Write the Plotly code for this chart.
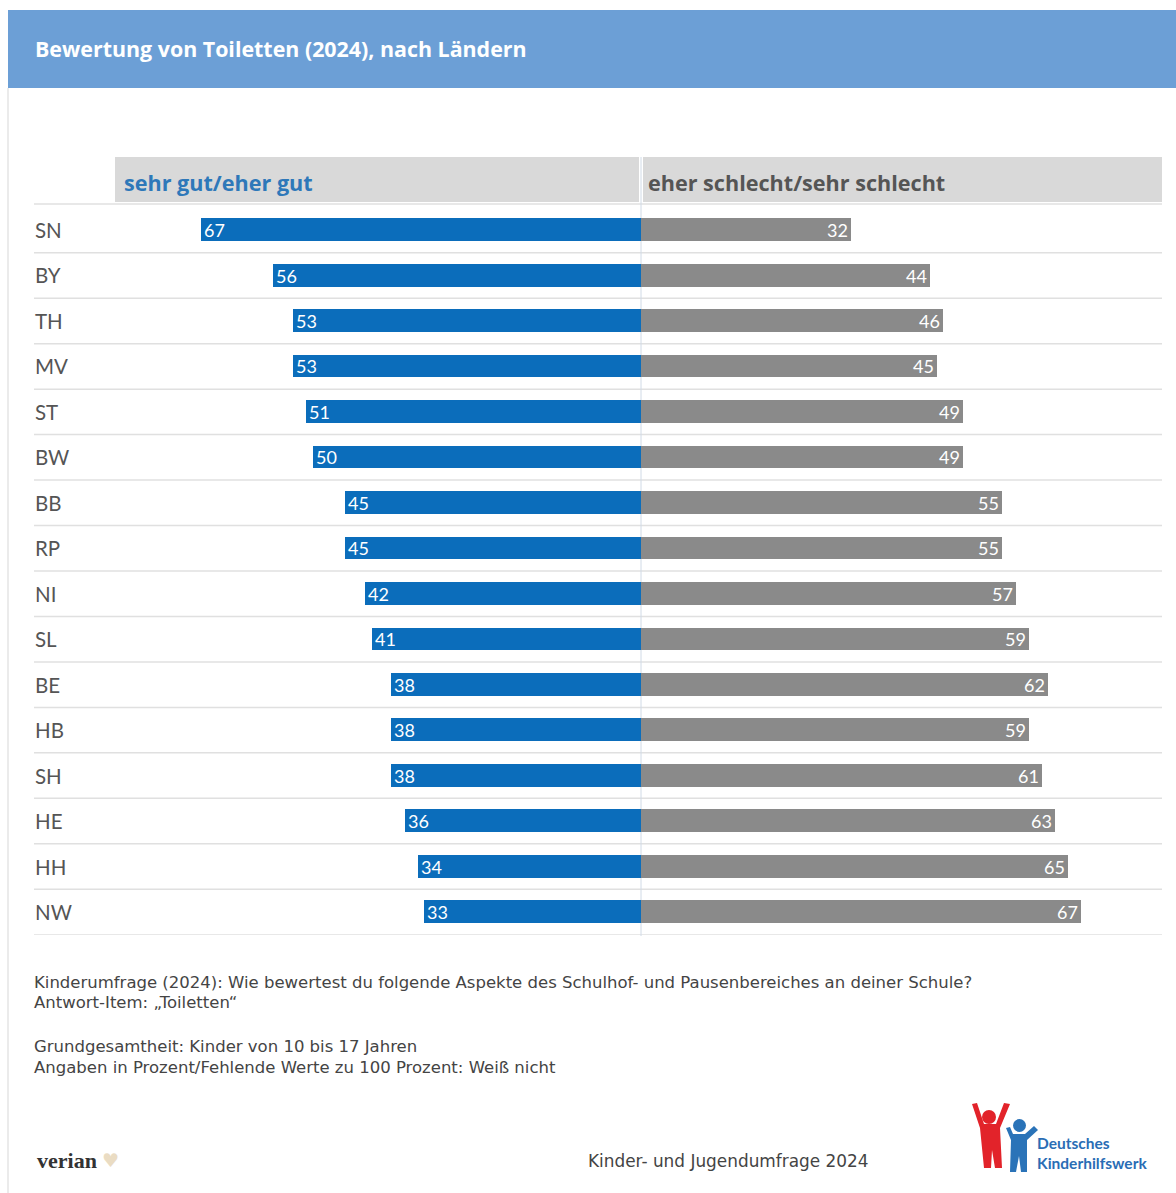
import plotly.graph_objects as go

W, H = 1176, 1193

states = ["SN", "BY", "TH", "MV", "ST", "BW", "BB", "RP", "NI", "SL", "BE", "HB", "SH", "HE", "HH", "NW"]
good = [67, 56, 53, 53, 51, 50, 45, 45, 42, 41, 38, 38, 38, 36, 34, 33]
bad = [32, 44, 46, 45, 49, 49, 55, 55, 57, 59, 62, 59, 61, 63, 65, 67]

series_names = ["sehr gut/eher gut", "eher schlecht/sehr schlecht"]
title_text = "Bewertung von Toiletten (2024), nach Ländern"
notes = [
    "Kinderumfrage (2024): Wie bewertest du folgende Aspekte des Schulhof- und Pausenbereiches an deiner Schule?",
    "Antwort-Item: „Toiletten“",
    "Grundgesamtheit: Kinder von 10 bis 17 Jahren",
    "Angaben in Prozent/Fehlende Werte zu 100 Prozent: Weiß nicht",
]

FONT = "Lato, 'Open Sans', sans-serif"
HFONT = "'Open Sans', Lato, sans-serif"
NFONT = "'DejaVu Sans', sans-serif"
BLUE = "#0b6dbb"
GREY = "#8a8a8a"


def px(x):
    return x / W


def py(y):
    return 1 - y / H


idx = list(range(len(states)))

fig = go.Figure()
fig.add_trace(go.Bar(
    y=idx, x=[-v for v in good], orientation="h", width=0.5,
    marker=dict(color=BLUE, line=dict(width=0)),
    text=[str(v) for v in good], textposition="inside", insidetextanchor="end",
    textangle=0, constraintext="none",
    textfont=dict(color="white", size=18, family=FONT),
    name=series_names[0], hoverinfo="skip",
))
fig.add_trace(go.Bar(
    y=idx, x=bad, orientation="h", width=0.5,
    marker=dict(color=GREY, line=dict(width=0)),
    text=[str(v) for v in bad], textposition="inside", insidetextanchor="end",
    textangle=0, constraintext="none",
    textfont=dict(color="white", size=18, family=FONT),
    name=series_names[1], hoverinfo="skip",
))

shapes = []
shapes.append(dict(type="rect", xref="paper", yref="paper", x0=px(8), x1=1, y0=py(88), y1=py(10),
                   fillcolor="#6c9fd6", line=dict(width=0), layer="below"))
shapes.append(dict(type="line", xref="paper", yref="paper", x0=px(8), x1=px(8), y0=0, y1=py(88),
                   line=dict(color="#e4e4e4", width=1.5)))
shapes.append(dict(type="rect", xref="paper", yref="paper", x0=px(115), x1=px(639), y0=py(202), y1=py(157),
                   fillcolor="#d9d9d9", line=dict(width=0), layer="below"))
shapes.append(dict(type="rect", xref="paper", yref="paper", x0=px(643), x1=px(1162), y0=py(202), y1=py(157),
                   fillcolor="#d9d9d9", line=dict(width=0), layer="below"))
shapes.append(dict(type="line", xref="paper", yref="paper", x0=px(34), x1=px(1162), y0=py(204), y1=py(204),
                   line=dict(color="#e0e0e0", width=1.5), layer="below"))
for i in idx:
    shapes.append(dict(type="line", xref="paper", yref="y", x0=px(34), x1=px(1162), y0=i + 0.5, y1=i + 0.5,
                       line=dict(color="#e0e0e0", width=1.5), layer="below"))
shapes.append(dict(type="line", xref="x", yref="paper", x0=0, x1=0, y0=py(936), y1=py(157),
                   line=dict(color="#d0dae6", width=1), layer="below"))

RED = "#e2232a"
LB = "#2a73b8"
shapes += [
    dict(type="circle", xref="paper", yref="paper", x0=px(982), x1=px(996), y0=py(1124), y1=py(1110),
         fillcolor=RED, line=dict(width=0)),
    dict(type="path", xref="paper", yref="paper",
         path=f"M {px(972)} {py(1104)} L {px(980)} {py(1128)} L {px(984)} {py(1168)} L {px(991)} {py(1168)} "
              f"L {px(992)} {py(1150)} L {px(995)} {py(1168)} L {px(1002)} {py(1168)} L {px(1000)} {py(1128)} "
              f"L {px(1010)} {py(1104)} L {px(1004)} {py(1103)} L {px(996)} {py(1124)} L {px(984)} {py(1124)} "
              f"L {px(977)} {py(1103)} Z",
         fillcolor=RED, line=dict(width=0)),
    dict(type="circle", xref="paper", yref="paper", x0=px(1013), x1=px(1026), y0=py(1132), y1=py(1119),
         fillcolor=LB, line=dict(width=0)),
    dict(type="path", xref="paper", yref="paper",
         path=f"M {px(1006)} {py(1128)} L {px(1011)} {py(1140)} L {px(1010)} {py(1172)} L {px(1016)} {py(1172)} "
              f"L {px(1019)} {py(1156)} L {px(1021)} {py(1172)} L {px(1027)} {py(1172)} L {px(1027)} {py(1140)} "
              f"L {px(1038)} {py(1130)} L {px(1034)} {py(1126)} L {px(1025)} {py(1134)} L {px(1013)} {py(1134)} "
              f"L {px(1010)} {py(1127)} Z",
         fillcolor=LB, line=dict(width=0)),
]

annotations = []
annotations.append(dict(xref="paper", yref="paper", x=px(33), y=py(49), xanchor="left", yanchor="middle",
                        text=f"<b>{title_text}</b>", showarrow=False,
                        font=dict(family=HFONT, size=21.4, color="#ffffff")))
annotations.append(dict(xref="paper", yref="paper", x=px(122), y=py(182), xanchor="left", yanchor="middle",
                        text=f"<b>{series_names[0]}</b>", showarrow=False,
                        font=dict(family=HFONT, size=21.6, color="#2e78b9")))
annotations.append(dict(xref="paper", yref="paper", x=px(646), y=py(182), xanchor="left", yanchor="middle",
                        text=f"<b>{series_names[1]}</b>", showarrow=False,
                        font=dict(family=HFONT, size=21.6, color="#555555")))
for i, s in zip(idx, states):
    annotations.append(dict(xref="paper", yref="y", x=px(33), y=i, xanchor="left", yanchor="middle",
                            text=s, showarrow=False, font=dict(family=FONT, size=20.5, color="#555555")))
note_y = [982, 1002, 1046, 1067]
for t, yy in zip(notes, note_y):
    annotations.append(dict(xref="paper", yref="paper", x=px(32), y=py(yy), xanchor="left", yanchor="middle",
                            text=t, showarrow=False, font=dict(family=NFONT, size=16.5, color="#444444")))
annotations.append(dict(xref="paper", yref="paper", x=px(35), y=py(1160), xanchor="left", yanchor="middle",
                        text="<b>verian</b>", showarrow=False,
                        font=dict(family="'Liberation Serif', serif", size=22, color="#333333")))
annotations.append(dict(xref="paper", yref="paper", x=px(100), y=py(1160), xanchor="left", yanchor="middle",
                        text="♥", showarrow=False,
                        font=dict(family="DejaVu Sans", size=19, color="#eadcc3")))
annotations.append(dict(xref="paper", yref="paper", x=px(586), y=py(1161), xanchor="left", yanchor="middle",
                        text="Kinder- und Jugendumfrage 2024", showarrow=False,
                        font=dict(family=NFONT, size=16.9, color="#444444")))
annotations.append(dict(xref="paper", yref="paper", x=px(1035), y=py(1153), xanchor="left", yanchor="middle",
                        text="<b>Deutsches<br>Kinderhilfswerk</b>", showarrow=False, align="left",
                        font=dict(family=FONT, size=15.5, color="#2a6db5")))

fig.update_layout(
    width=W, height=H, margin=dict(l=0, r=0, t=0, b=0),
    paper_bgcolor="white", plot_bgcolor="rgba(0,0,0,0)",
    barmode="relative", bargap=0, showlegend=False,
    xaxis=dict(domain=[px(34), px(1162)], range=[-92.4, 79.3], visible=False, fixedrange=True),
    yaxis=dict(domain=[py(934.7), py(207.3)], range=[15.5, -0.5], visible=False, fixedrange=True),
    shapes=shapes, annotations=annotations,
    uniformtext=dict(mode=False),
)

fig.write_html("out.html")
